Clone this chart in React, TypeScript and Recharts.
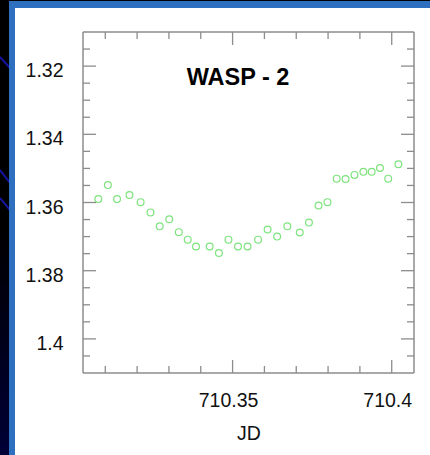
import React from 'react';
import { ScatterChart, Scatter, XAxis, YAxis } from 'recharts';

// light curve (JD, relative flux)
const jd = [
  710.3078, 710.3108, 710.3137, 710.3176, 710.3211, 710.3242, 710.3271, 710.3301,
  710.3331, 710.3359, 710.3385, 710.3428, 710.3457, 710.3487, 710.3517, 710.3547,
  710.3580, 710.3610, 710.3640, 710.3672, 710.3711, 710.3740, 710.3770, 710.3798,
  710.3827, 710.3855, 710.3883, 710.3911, 710.3937, 710.3963, 710.3989, 710.4021,
];
const flux = [
  1.3590, 1.3549, 1.3590, 1.3578, 1.3599, 1.3629, 1.3670, 1.3649,
  1.3687, 1.3709, 1.3729, 1.3729, 1.3748, 1.3709, 1.3729, 1.3729,
  1.3709, 1.3679, 1.3700, 1.3670, 1.3688, 1.3659, 1.3609, 1.3599,
  1.3530, 1.3531, 1.3519, 1.3510, 1.3510, 1.3499, 1.3530, 1.3488,
];

const xTicks = [710.31, 710.32, 710.33, 710.34, 710.35, 710.36, 710.37, 710.38, 710.39, 710.4];
const xLabels = [710.35, 710.4];
const yTicks = [
  1.315, 1.32, 1.325, 1.33, 1.335, 1.34, 1.345, 1.35, 1.355, 1.36,
  1.365, 1.37, 1.375, 1.38, 1.385, 1.39, 1.395, 1.4, 1.405,
];
const yLabels = [1.32, 1.34, 1.36, 1.38, 1.4];

const points = jd.map((x, i) => ({ x, y: flux[i] }));

const font = 'Liberation Sans, Arial, Helvetica, sans-serif';
const axisColor = '#8c8c8c';
const dotColor = '#7ee37e';

const isMajor = (v: number, list: number[]) => list.some((m) => Math.abs(m - v) < 1e-6);

const LeftTick = (props: any) => {
  const { x, y, payload } = props;
  const major = isMajor(payload.value, yLabels);
  return (
    <g>
      <line x1={x} x2={x + (major ? 13 : 7)} y1={y} y2={y} stroke={axisColor} strokeWidth={1.3} />
      {major && (
        <text x={x - 19.5} y={y + 11} textAnchor="end" fontSize={19.5} fontFamily={font} fill="#111">
          {String(payload.value)}
        </text>
      )}
    </g>
  );
};

const RightTick = (props: any) => {
  const { x, y, payload } = props;
  const major = isMajor(payload.value, yLabels);
  return <line x1={x} x2={x - (major ? 13 : 7)} y1={y} y2={y} stroke={axisColor} strokeWidth={1.3} />;
};

const BottomTick = (props: any) => {
  const { x, y, payload } = props;
  const major = isMajor(payload.value, xLabels);
  return (
    <g>
      <line x1={x} x2={x} y1={y} y2={y - (major ? 13 : 7)} stroke={axisColor} strokeWidth={1.3} />
      {major && (
        <text x={x - 4} y={y + 34} textAnchor="middle" fontSize={19.5} fontFamily={font} fill="#111">
          {String(payload.value)}
        </text>
      )}
    </g>
  );
};

const TopTick = (props: any) => {
  const { x, y, payload } = props;
  const major = isMajor(payload.value, xLabels);
  return <line x1={x} x2={x} y1={y} y2={y + (major ? 13 : 7)} stroke={axisColor} strokeWidth={1.3} />;
};

const Ring = (props: any) => (
  <circle cx={props.cx} cy={props.cy} r={3.4} fill="none" stroke={dotColor} strokeWidth={1.2} />
);

const frame = { stroke: axisColor, strokeWidth: 1.5 };

export default function App() {
  return (
    <div
      style={{
        position: 'absolute',
        left: 0,
        top: 0,
        width: 430,
        height: 455,
        overflow: 'hidden',
        background: 'linear-gradient(#000 0%, #000 50%, #000036 100%)',
      }}
    >
      <svg width={10} height={455} style={{ position: 'absolute', left: 0, top: 0 }}>
        <line x1={0} y1={57} x2={10} y2={68} stroke="#1414a0" strokeWidth={2} />
        <line x1={0} y1={170} x2={10} y2={183} stroke="#1414a0" strokeWidth={2} />
        <line x1={0} y1={198} x2={10} y2={210} stroke="#1414a0" strokeWidth={2} />
      </svg>
      <div style={{ position: 'absolute', left: 9, top: 1, right: 0, bottom: 0, background: '#2f6fc0' }} />
      <div style={{ position: 'absolute', left: 15, top: 8, right: 0, bottom: 0, background: '#fff' }} />
      <div style={{ position: 'absolute', left: 0, top: 0 }}>
        <ScatterChart width={430} height={455} margin={{ top: 31, right: 15, bottom: 0, left: 0 }}>
          <XAxis
            xAxisId="b"
            dataKey="x"
            type="number"
            orientation="bottom"
            domain={[710.303, 710.407]}
            allowDataOverflow
            ticks={xTicks}
            interval={0}
            height={82}
            tickSize={0}
            tickMargin={0}
            tickLine={false}
            axisLine={frame}
            tick={BottomTick}
          />
          <XAxis
            xAxisId="t"
            dataKey="x"
            type="number"
            orientation="top"
            domain={[710.303, 710.407]}
            allowDataOverflow
            ticks={xTicks}
            interval={0}
            height={1}
            tickSize={0}
            tickMargin={0}
            tickLine={false}
            axisLine={frame}
            tick={TopTick}
          />
          <YAxis
            yAxisId="l"
            dataKey="y"
            type="number"
            orientation="left"
            domain={[1.31, 1.41]}
            reversed
            allowDataOverflow
            ticks={yTicks}
            interval={0}
            width={83}
            tickSize={0}
            tickMargin={0}
            tickLine={false}
            axisLine={frame}
            tick={LeftTick}
          />
          <YAxis
            yAxisId="r"
            dataKey="y"
            type="number"
            orientation="right"
            domain={[1.31, 1.41]}
            reversed
            allowDataOverflow
            ticks={yTicks}
            interval={0}
            width={1}
            tickSize={0}
            tickMargin={0}
            tickLine={false}
            axisLine={frame}
            tick={RightTick}
          />
          <Scatter
            data={points}
            xAxisId="b"
            yAxisId="l"
            shape={Ring}
            isAnimationActive={false}
          />
        </ScatterChart>
      </div>
      <svg width={430} height={455} style={{ position: 'absolute', left: 0, top: 0, pointerEvents: 'none' }}>
        <text x={238} y={85} textAnchor="middle" fontSize={23.5} fontWeight="bold" fontFamily={font} fill="#000">
          WASP - 2
        </text>
        <text x={249} y={440} textAnchor="middle" fontSize={19.5} fontFamily={font} fill="#111">
          JD
        </text>
      </svg>
    </div>
  );
}
